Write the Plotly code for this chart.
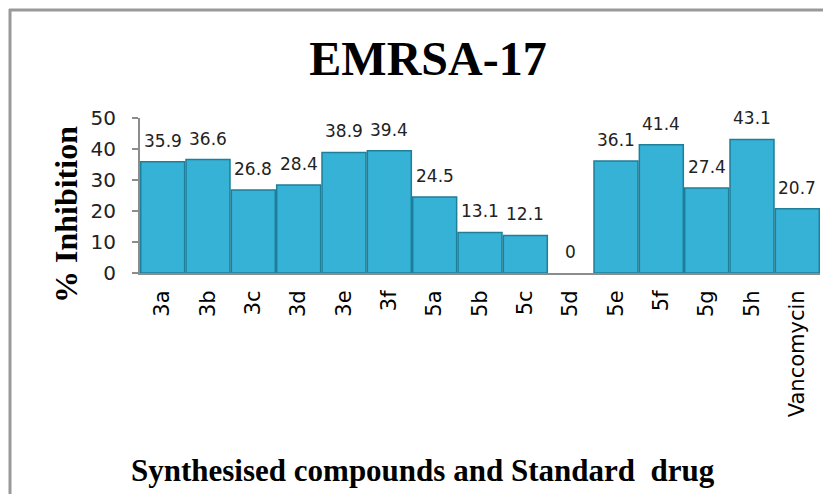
import plotly.graph_objects as go

categories = ["3a", "3b", "3c", "3d", "3e", "3f", "5a", "5b", "5c", "5d",
              "5e", "5f", "5g", "5h", "Vancomycin"]
values = [35.9, 36.6, 26.8, 28.4, 38.9, 39.4, 24.5, 13.1, 12.1, 0,
          36.1, 41.4, 27.4, 43.1, 20.7]
value_labels = ["35.9", "36.6", "26.8", "28.4", "38.9", "39.4", "24.5", "13.1",
                "12.1", "0", "36.1", "41.4", "27.4", "43.1", "20.7"]
y_ticks = [0, 10, 20, 30, 40, 50]

# page body has an 8px margin; figure pixel = screen pixel - 8
OFF = 8
W, H = 831, 494
ml = 140 - OFF
mt = 118 - OFF
plot_right = 820 - OFF
plot_bottom = 273 - OFF
mr = W - plot_right
mb = H - plot_bottom
PW = W - ml - mr
PH = H - mt - mb


def px(xs):
    return (xs - OFF - ml) / PW


def py(ys):
    return (H - (ys - OFF) - mb) / PH


fig = go.Figure()
fig.add_trace(go.Bar(
    x=categories, y=values,
    marker=dict(color="#36B2D6",
                line=dict(color="#1F7E98",
                          width=[0 if v == 0 else 1.5 for v in values])),
    hoverinfo="x+y",
))

annotations = []
for c, v, t in zip(categories, values, value_labels):
    annotations.append(dict(
        x=c, y=v, xref="x", yref="y", text=t, showarrow=False,
        yanchor="bottom", yshift=9,
        font=dict(family="DejaVu Sans", size=17, color="#222222"),
    ))

annotations.append(dict(
    x=px(66), y=py(215), xref="paper", yref="paper", text="<b>% Inhibition</b>",
    showarrow=False, textangle=-90, xanchor="center", yanchor="middle",
    font=dict(family="Liberation Serif", size=32, color="#000000"),
))
annotations.append(dict(
    x=px(423), y=py(470), xref="paper", yref="paper",
    text="<b>Synthesised compounds and Standard  drug</b>",
    showarrow=False, xanchor="center", yanchor="middle",
    font=dict(family="Liberation Serif", size=31, color="#000000"),
))

fig.update_layout(
    width=W, height=H,
    margin=dict(l=ml, r=mr, t=mt, b=mb, autoexpand=False),
    paper_bgcolor="white", plot_bgcolor="white",
    bargap=0.03,
    showlegend=False,
    title=dict(
        text="<b>EMRSA-17</b>", x=(428 - OFF) / W, xanchor="center",
        y=1 - (58 - OFF) / H, yanchor="middle",
        font=dict(family="Liberation Serif", size=48, color="#000000"),
    ),
    annotations=annotations,
    shapes=[
        dict(type="line", xref="paper", yref="paper",
             x0=px(10), x1=px(10), y0=py(9), y1=py(520),
             line=dict(color="#999999", width=3)),
        dict(type="line", xref="paper", yref="paper",
             x0=px(9), x1=px(860), y0=py(10), y1=py(10),
             line=dict(color="#999999", width=3)),
    ],
)
fig.update_xaxes(
    showline=True, linecolor="#8c8c8c", linewidth=2,
    showgrid=False, ticks="", tickangle=-90,
    ticklabelstandoff=7,
    tickfont=dict(family="DejaVu Sans", size=21, color="#000000"),
)
fig.update_yaxes(
    range=[0, 50], tickvals=y_ticks,
    showline=True, linecolor="#8c8c8c", linewidth=2,
    showgrid=False, zeroline=False, ticks="outside", ticklen=6,
    tickcolor="#8c8c8c", tickwidth=2, ticklabelstandoff=12,
    tickfont=dict(family="DejaVu Sans", size=20, color="#222222"),
)

fig.write_html("out.html")
